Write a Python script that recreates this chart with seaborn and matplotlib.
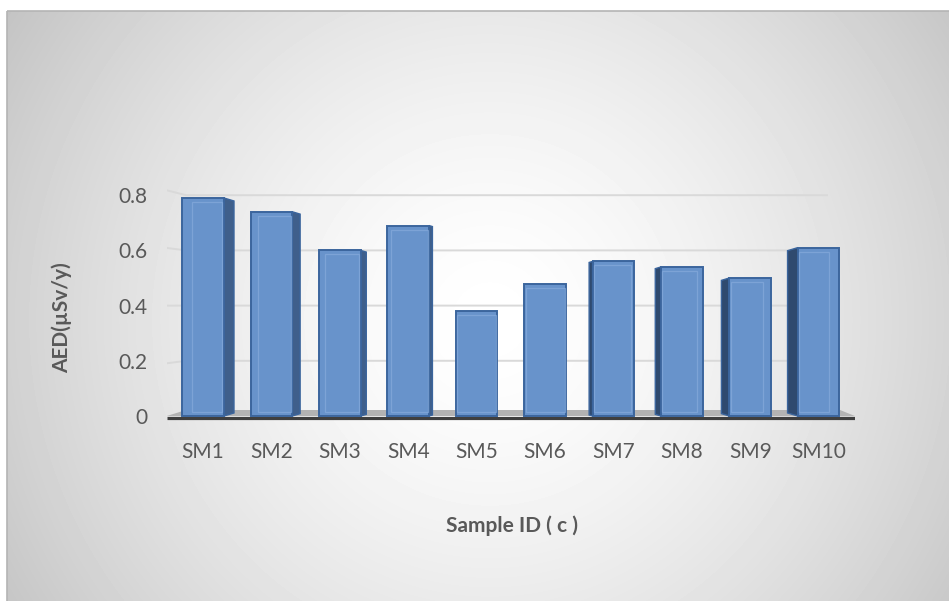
import numpy as np
import pandas as pd
import matplotlib
matplotlib.use("Agg")
import matplotlib.pyplot as plt
from matplotlib.patches import Polygon, Rectangle
import seaborn as sns

# ---- data ----
samples = ["SM1", "SM2", "SM3", "SM4", "SM5", "SM6", "SM7", "SM8", "SM9", "SM10"]
aed = [0.79, 0.74, 0.60, 0.69, 0.38, 0.48, 0.56, 0.54, 0.50, 0.61]
y_ticks = [0, 0.2, 0.4, 0.6, 0.8]
y_tick_labels = ["0", "0.2", "0.4", "0.6", "0.8"]
x_title = "Sample ID ( c )"
y_title = "AED(\u00b5Sv/y)"

df = pd.DataFrame({"sample": samples, "aed": aed})

plt.rcParams["font.family"] = ["Lato", "DejaVu Sans"]
TEXT = "#595959"
FRONT = "#6893cb"
EDGE = "#3b659d"
SIDE_R = "#3f5f8b"
SIDE_L = "#2f4a6f"
INNER = "#86abdc"
GRID = "#d9d9d9"

W, H, DPI = 949, 601, 100
fig = plt.figure(figsize=(W / DPI, H / DPI), dpi=DPI)
fig.patch.set_facecolor("white")

# ---- radial grey background of the chart area ----
bg = fig.add_axes([0, 0, 1, 1], zorder=-10)
bg.set_xlim(0, W)
bg.set_ylim(H, 0)
bg.axis("off")
fx0, fy0 = 7, 11
xx, yy = np.meshgrid(np.arange(fx0, W) + 0.5, np.arange(fy0, H) + 0.5)
dist = np.hypot(xx - 490, yy - 320) / 560
shade = 1 - 0.225 * np.clip(dist, 0, 1.2) ** 1.5
bg.imshow(shade, cmap="gray", vmin=0, vmax=1, extent=(fx0, W, H, fy0),
          interpolation="bilinear", aspect="auto")
bg.add_patch(Rectangle((fx0, fy0), W - fx0 + 5, H - fy0 + 5, fill=False,
                       edgecolor="#b4b4b4", lw=1.2))

# ---- plot area geometry (pixels) ----
X0_PX, STEP_PX = 203.0, 68.4     # centre of first category, category spacing
Y0_PX, UNIT_PX = 416.0, 276.0    # y=0 position, pixels per unit
xlim = (-0.53, 9.53)
ylim = (-0.022, 0.905)
left_px = X0_PX + xlim[0] * STEP_PX
right_px = X0_PX + xlim[1] * STEP_PX
bot_px = Y0_PX - ylim[0] * UNIT_PX
top_px = Y0_PX - ylim[1] * UNIT_PX

ax = fig.add_axes([left_px / W, (H - bot_px) / H,
                   (right_px - left_px) / W, (bot_px - top_px) / H])
ax.patch.set_visible(False)


def px_x(px):
    return (px - X0_PX) / STEP_PX


# back-wall gridlines with a short receding segment on the left wall
for v in y_ticks[1:]:
    ypx = Y0_PX - v * UNIT_PX
    dy = (ypx - 305) * 0.045 / UNIT_PX
    ax.plot([xlim[0], px_x(186), px_x(828)], [v - dy, v, v],
            color=GRID, lw=1.4, zorder=0.5, solid_capstyle="butt")

# floor
floor_back = 6 / UNIT_PX
ax.add_patch(Polygon([(xlim[0], 0), (xlim[1], 0), (px_x(840), floor_back),
                      (px_x(186), floor_back)], closed=True,
                     facecolor="#b3b3b3", edgecolor="none", zorder=1))
ax.plot([xlim[0], xlim[1]], [-0.008, -0.008], color="#3f3f3f", lw=2.3,
        zorder=1.2, solid_capstyle="butt")

# ---- bars ----
BAR_W = 0.61
sns.barplot(data=df, x="sample", y="aed", color=FRONT, saturation=1,
            width=BAR_W, edgecolor=EDGE, linewidth=1.4, ax=ax, zorder=3)
bars = list(ax.patches)[-len(samples):]

hw = BAR_W / 2
for i, (bar, v) in enumerate(zip(bars, aed)):
    xc = bar.get_x() + bar.get_width() / 2
    depth_px = 0.033 * (510 - (X0_PX + xc * STEP_PX))
    dx = depth_px / STEP_PX
    f = abs(depth_px) / 10
    sh = 3 * f / UNIT_PX
    if abs(depth_px) > 1.5:
        xe = xc + hw if dx > 0 else xc - hw
        side = SIDE_R if dx > 0 else SIDE_L
        ax.add_patch(Polygon([(xe, 0), (xe + dx, sh), (xe + dx, v - sh), (xe, v)],
                             closed=True, facecolor=side, edgecolor=EDGE,
                             lw=1.0, zorder=2.9))
    # bevel highlight on the front face
    inset = 1.5 / STEP_PX
    if dx > 0:
        l, r = xc - hw + abs(dx), xc + hw - inset
    else:
        l, r = xc - hw + inset, xc + hw - abs(dx)
    ax.add_patch(Rectangle((l, 4 / UNIT_PX), r - l, v - 8 / UNIT_PX, fill=False,
                           edgecolor=INNER, lw=0.9, alpha=0.7, zorder=3.2))

# ---- axes styling ----
ax.set_xlim(*xlim)
ax.set_ylim(*ylim)
for s in ax.spines.values():
    s.set_visible(False)
ax.set_yticks(y_ticks, y_tick_labels)
ax.tick_params(axis="y", length=0, pad=14, labelsize=15, labelcolor=TEXT)
ax.tick_params(axis="x", length=0, pad=14, labelsize=15, labelcolor=TEXT)
ax.grid(False)

ax.set_xlabel(x_title, fontsize=15, fontweight="bold", color=TEXT)
ax.set_ylabel(y_title, fontsize=15, fontweight="bold", color=TEXT)
ax.xaxis.set_label_coords((512 - left_px) / (right_px - left_px),
                          (bot_px - 526) / (bot_px - top_px))
ax.xaxis.label.set_va("center")
ax.yaxis.set_label_coords((62 - left_px) / (right_px - left_px),
                          (bot_px - 318) / (bot_px - top_px))
ax.yaxis.label.set_va("center")

fig.savefig("out.png", dpi=DPI)
